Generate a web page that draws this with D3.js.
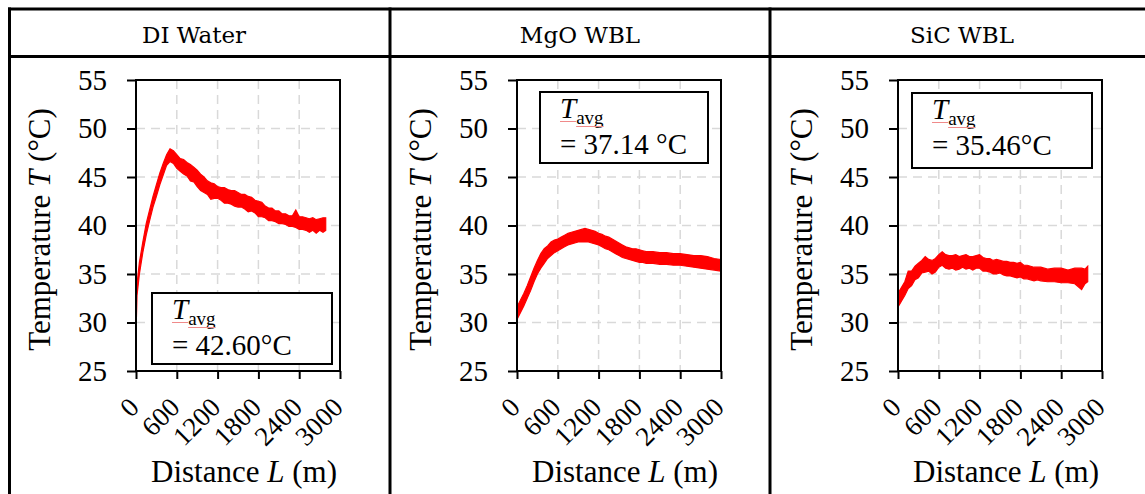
<!DOCTYPE html>
<html>
<head>
<meta charset="utf-8">
<style>
body { margin: 0; background: #fff; }
svg { display: block; font-family: "Liberation Serif", "Times New Roman", serif; }
.grid line { stroke: #d9d9d9; stroke-width: 1.5; stroke-dasharray: 9,6; }
</style>
</head>
<body>
<svg id="chart" width="1145" height="494"></svg>
<script src="https://cdn.jsdelivr.net/npm/d3@7"></script>
<script>
// panel titles and average labels
const panelNames = ["DI Water", "MgO WBL", "SiC WBL"];
const avgLabels = ["= 42.60°C", "= 37.14 °C", "= 35.46°C"];
const xTicks = [0, 600, 1200, 1800, 2400, 3000];
const yTicks = [25, 30, 35, 40, 45, 50, 55];

// DI water: distance (m), lower / upper edge of the noisy trace (°C)
const diDist = [0, 15, 50, 100, 150, 200, 250, 300, 350, 400, 450, 500, 550, 600, 650, 700, 750, 800, 850, 900,
  950, 1000, 1050, 1100, 1150, 1200, 1250, 1300, 1350, 1400, 1450, 1500, 1550, 1600, 1650, 1700, 1750, 1800,
  1850, 1900, 1950, 2000, 2050, 2100, 2150, 2200, 2250, 2300, 2350, 2400, 2450, 2500, 2550, 2600, 2650, 2700, 2750, 2790];
const diLow = [28.8, 32.8, 35.0, 37.2, 39.0, 40.5, 41.9, 43.0, 44.2, 45.2, 46.2, 46.6, 46.4, 45.9, 45.6, 45.3, 45.1, 44.6, 44.5, 44.0,
  43.6, 43.4, 43.2, 42.7, 42.8, 42.8, 42.6, 42.3, 42.3, 42.2, 42.0, 41.9, 41.9, 41.7, 41.4, 41.5, 41.3, 40.9,
  40.9, 40.8, 40.5, 40.5, 40.4, 40.2, 40.2, 40.1, 39.9, 39.9, 39.8, 39.6, 39.6, 39.5, 39.3, 39.5, 39.2, 39.5, 39.3, 39.5];
const diHigh = [30.5, 34.0, 36.2, 38.3, 40.2, 41.6, 43.0, 44.2, 45.4, 46.4, 47.3, 47.9, 47.7, 47.3, 46.9, 46.8, 46.5, 46.3, 46.0, 45.7,
  45.3, 45.0, 44.6, 44.4, 44.3, 44.0, 43.9, 43.9, 43.7, 43.6, 43.6, 43.4, 43.2, 43.2, 43.0, 42.9, 42.6, 42.5,
  42.4, 42.0, 41.8, 41.8, 41.5, 41.5, 41.2, 41.2, 41.0, 41.0, 41.6, 40.9, 40.9, 40.8, 40.7, 40.8, 40.6, 40.7, 40.8, 40.8];

// MgO WBL
const mgoDist = [0, 50, 100, 150, 200, 250, 300, 350, 400, 450, 500, 550, 600, 650, 700, 750, 800, 850, 900, 950,
  1000, 1050, 1100, 1150, 1200, 1250, 1300, 1350, 1400, 1450, 1500, 1550, 1600, 1650, 1700, 1750, 1800, 1850,
  1900, 2000, 2100, 2200, 2300, 2400, 2500, 2600, 2700, 2800, 2900, 2990];
const mgoLow = [30.3, 31.0, 31.7, 32.5, 33.3, 34.2, 35.0, 35.6, 36.1, 36.6, 36.9, 37.2, 37.4, 37.6, 37.8, 38.0, 38.1, 38.2, 38.3, 38.3,
  38.3, 38.3, 38.2, 38.1, 38.0, 37.8, 37.6, 37.5, 37.3, 37.1, 36.9, 36.7, 36.6, 36.5, 36.4, 36.3, 36.2, 36.2,
  36.1, 36.1, 36.0, 36.0, 35.9, 35.9, 35.8, 35.7, 35.6, 35.5, 35.4, 35.3];
const mgoHigh = [31.6, 32.3, 33.0, 33.8, 34.7, 35.6, 36.4, 37.1, 37.6, 37.9, 38.3, 38.5, 38.6, 38.8, 39.0, 39.2, 39.3, 39.4, 39.5, 39.6,
  39.7, 39.6, 39.5, 39.4, 39.2, 39.1, 38.9, 38.8, 38.6, 38.4, 38.2, 38.0, 37.8, 37.7, 37.6, 37.6, 37.5, 37.4,
  37.3, 37.3, 37.2, 37.2, 37.1, 37.1, 37.0, 36.9, 36.9, 36.8, 36.6, 36.5];

// SiC WBL
const sicDist = [0, 50, 100, 150, 200, 250, 300, 350, 400, 450, 500, 550, 600, 650, 700, 750, 800, 850, 900, 950,
  1000, 1050, 1100, 1150, 1200, 1250, 1300, 1350, 1400, 1450, 1500, 1550, 1600, 1650, 1700, 1750, 1800, 1850,
  1900, 1950, 2000, 2050, 2100, 2200, 2300, 2400, 2500, 2600, 2700, 2750, 2790];
const sicLow = [31.6, 32.2, 32.8, 33.5, 33.8, 34.4, 34.6, 35.1, 35.2, 35.3, 35.0, 35.2, 35.7, 35.9, 35.6, 35.5, 35.6, 35.4, 35.5, 35.7,
  35.5, 35.6, 35.4, 35.6, 35.6, 35.3, 35.3, 35.2, 35.0, 35.0, 35.1, 34.9, 34.8, 34.8, 34.7, 34.6, 34.7, 34.5,
  34.5, 34.4, 34.3, 34.4, 34.3, 34.2, 34.2, 34.1, 34.1, 34.0, 33.4, 34.0, 34.2];
const sicHigh = [33.0, 33.6, 34.2, 35.3, 35.3, 35.8, 36.1, 36.4, 36.8, 36.5, 36.4, 36.6, 37.0, 37.3, 37.0, 36.9, 36.9, 37.0, 36.8, 36.9,
  37.0, 36.8, 36.8, 36.9, 37.0, 36.7, 36.6, 36.6, 36.4, 36.5, 36.4, 36.3, 36.3, 36.2, 36.2, 36.1, 36.2, 35.9,
  35.9, 35.8, 35.7, 35.7, 35.7, 35.5, 35.6, 35.6, 35.4, 35.6, 35.6, 35.5, 35.8];

const series = [
  {dist: diDist, lo: diLow, hi: diHigh},
  {dist: mgoDist, lo: mgoLow, hi: mgoHigh},
  {dist: sicDist, lo: sicLow, hi: sicHigh}
];

// layout
const plotLeft = [136, 517, 898];
const plotTop = 80, plotW = 204, plotH = 291;
const headerX = [194, 580, 962];
const boxes = [
  {dx: 16, dy: 213, w: 180, h: 71},
  {dx: 23, dy: 12, w: 168, h: 71},
  {dx: 14, dy: 13, w: 180, h: 75}
];
const serif = '"Liberation Serif", "Times New Roman", serif';

const svg = d3.select("#chart");

// table lines
svg.append("line").attr("x1", 8).attr("x2", 1145).attr("y1", 9).attr("y2", 9)
  .attr("stroke", "#000").attr("stroke-width", 3);
svg.append("line").attr("x1", 8).attr("x2", 1145).attr("y1", 56.5).attr("y2", 56.5)
  .attr("stroke", "#000").attr("stroke-width", 3);
[9.5, 390, 770].forEach(x => {
  svg.append("line").attr("x1", x).attr("x2", x).attr("y1", 7.5).attr("y2", 494)
    .attr("stroke", "#000").attr("stroke-width", 3);
});

panelNames.forEach((name, i) => {
  svg.append("text").attr("x", headerX[i]).attr("y", 43)
    .attr("text-anchor", "middle").attr("font-family", '"DejaVu Serif", serif')
    .attr("font-size", 23).text(name);

  const x = d3.scaleLinear().domain([0, 3000]).range([0, plotW]);
  const y = d3.scaleLinear().domain([25, 55]).range([plotH, 0]);
  const g = svg.append("g").attr("transform", `translate(${plotLeft[i]},${plotTop})`);

  // dashed grid
  const grid = g.append("g").attr("class", "grid");
  grid.selectAll(".v").data(xTicks.slice(1, -1)).enter().append("line")
    .attr("x1", d => x(d)).attr("x2", d => x(d)).attr("y1", 0).attr("y2", plotH);
  grid.selectAll(".h").data(yTicks.slice(1, -1)).enter().append("line")
    .attr("x1", 0).attr("x2", plotW).attr("y1", d => y(d)).attr("y2", d => y(d));

  // temperature trace
  const s = series[i];
  const area = d3.area()
    .x(k => x(s.dist[k]))
    .y0(k => y(s.lo[k]))
    .y1(k => y(s.hi[k]));
  g.append("path").datum(d3.range(s.dist.length))
    .attr("d", area)
    .attr("fill", "#ff0000").attr("stroke", "#ff0000")
    .attr("stroke-width", 1.2).attr("stroke-linejoin", "miter");

  // frame
  g.append("rect").attr("width", plotW).attr("height", plotH)
    .attr("fill", "none").attr("stroke", "#000").attr("stroke-width", 2);

  // axes
  const ya = g.append("g")
    .call(d3.axisLeft(y).tickValues(yTicks).tickSize(9).tickPadding(20).tickFormat(d3.format("d")));
  const xa = g.append("g").attr("transform", `translate(0,${plotH})`)
    .call(d3.axisBottom(x).tickValues(xTicks).tickSize(8).tickFormat(d3.format("d")));
  [ya, xa].forEach(a => {
    a.attr("font-family", serif).attr("font-size", 29);
    a.select(".domain").remove();
    a.selectAll(".tick line").attr("stroke", "#000").attr("stroke-width", 2);
    a.selectAll(".tick text").attr("fill", "#000");
  });
  xa.attr("font-size", 27);
  xa.selectAll(".tick text")
    .attr("y", null).attr("dy", null)
    .attr("text-anchor", "end")
    .attr("transform", "translate(4,38) rotate(-45)");

  // axis titles
  const xt = g.append("text").attr("x", plotW / 2 + 6).attr("y", 402)
    .attr("text-anchor", "middle").attr("font-size", 31);
  xt.append("tspan").text("Distance ");
  xt.append("tspan").attr("font-style", "italic").text("L");
  xt.append("tspan").text(" (m)");

  const yt = g.append("text")
    .attr("transform", `translate(-86,${plotH / 2 + 4}) rotate(-90)`)
    .attr("text-anchor", "middle").attr("font-size", 31);
  yt.append("tspan").text("Temperature ");
  yt.append("tspan").attr("font-style", "italic").text("T");
  yt.append("tspan").text(" (°C)");

  // average box
  const b = boxes[i];
  const bg = g.append("g").attr("transform", `translate(${b.dx},${b.dy})`);
  bg.append("rect").attr("width", b.w).attr("height", b.h)
    .attr("fill", "#fff").attr("stroke", "#000").attr("stroke-width", 2);
  const t1 = bg.append("text").attr("x", 20).attr("y", 26).attr("font-size", 29);
  const tT = t1.append("tspan").attr("font-style", "italic").text("T");
  const tA = t1.append("tspan").attr("font-size", 19).attr("dy", 6).text("avg");
  bg.append("text").attr("x", 20).attr("y", 62).attr("font-size", 29).text(avgLabels[i]);

  // spell-check underline seen in the source
  const wT = tT.node().getComputedTextLength();
  const wA = tA.node().getComputedTextLength();
  bg.append("path")
    .attr("d", `M20,29.5H${20 + wT}M${20 + wT},34.5H${20 + wT + wA}`)
    .attr("stroke", "#f08a8a").attr("stroke-width", 1).attr("fill", "none");
});
</script>
</body>
</html>
